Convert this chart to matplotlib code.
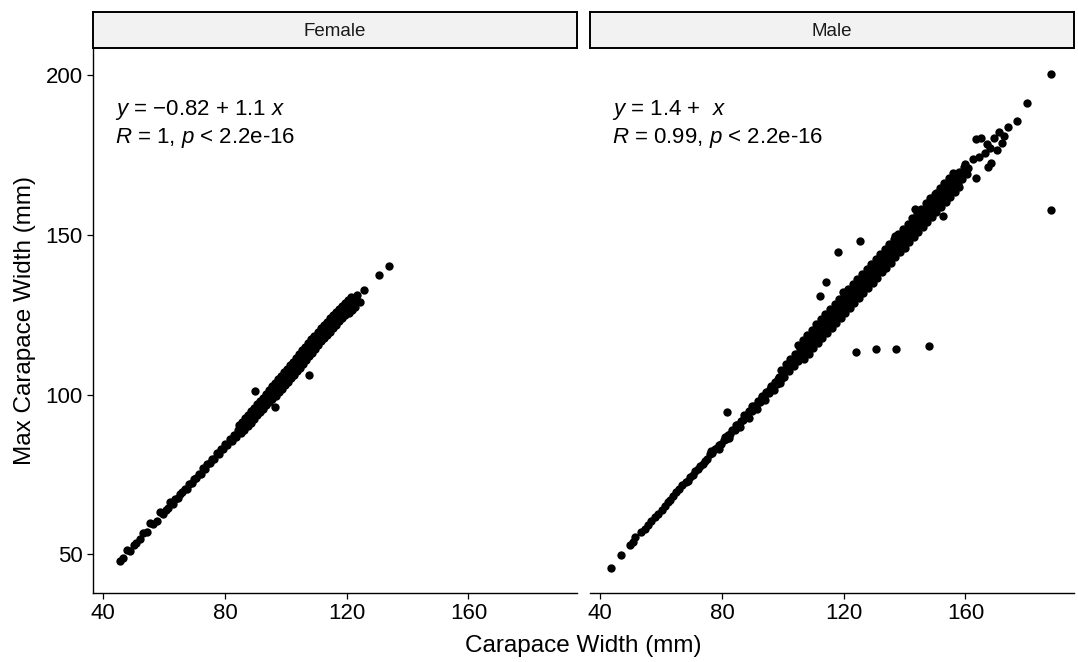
import matplotlib
matplotlib.use("Agg")
import matplotlib.pyplot as plt

plt.rcParams['font.family'] = ['Liberation Sans', 'DejaVu Sans']
plt.rcParams['mathtext.fontset'] = 'custom'
plt.rcParams['mathtext.rm'] = 'Liberation Sans'
plt.rcParams['mathtext.it'] = 'Liberation Sans:italic'

# ---------------- data ----------------
panels = ["Female", "Male"]
x_ticks = [40, 80, 120, 160]
y_ticks = [50, 100, 150, 200]
eq_text = ["$y$ = \u22120.82 + 1.1 $x$", "$y$ = 1.4 +  $x$"]
r_text = ["$R$ = 1, $p$ < 2.2e-16", "$R$ = 0.99, $p$ < 2.2e-16"]

female_low = [(45.6, 48.0), (46.3, 48.8), (47.8, 51.3), (48.6, 51.1), (50.0, 52.9), (50.8, 53.6),
              (52.0, 54.7), (53.2, 56.6), (54.2, 57.0), (55.5, 59.7), (56.4, 59.4), (57.5, 60.6),
              (58.7, 63.3), (59.6, 62.6), (60.5, 64.0), (61.3, 64.4), (62.0, 66.5), (62.9, 65.8),
              (63.6, 67.3), (64.4, 67.6), (65.2, 68.9), (66.0, 69.4), (66.8, 70.6), (67.5, 70.5),
              (68.3, 72.0), (69.0, 72.4), (69.8, 73.6), (70.6, 73.9), (71.3, 75.3), (72.0, 75.2),
              (72.8, 76.9), (73.5, 76.8), (74.2, 78.4), (75.0, 78.5), (75.8, 80.0), (76.5, 79.8),
              (77.2, 81.6), (78.0, 81.5), (78.7, 83.0), (79.4, 82.9), (80.1, 84.5), (80.8, 84.1),
              (81.5, 86.2), (82.2, 85.6), (82.9, 87.5), (83.6, 86.9), (84.3, 88.9)]

female_mid = [(85, 89.2), (86, 90.3), (87, 91.4), (88, 92.5), (89, 93.6), (90, 94.7), (91, 95.8),
              (92, 96.8), (93, 97.9), (94, 99.0), (95, 100.1), (96, 101.2), (97, 102.3), (98, 103.4),
              (99, 104.5), (100, 105.6), (101, 106.7), (102, 107.8), (103, 108.9), (104, 110.0),
              (105, 111.2), (106, 112.4), (107, 113.5), (108, 114.7), (109, 115.9), (110, 117.0),
              (111, 118.2), (112, 119.3), (113, 120.3), (114, 121.3), (115, 122.4), (116, 123.4),
              (117, 124.5), (118, 125.4), (119, 126.4), (120, 127.2), (121, 128.1), (122, 129.1),
              (123, 130.1)]

female_upper = [(84.6, 90.4), (85.6, 91.5), (86.6, 92.6), (87.6, 93.7), (88.6, 94.8), (89.6, 95.9),
                (90.6, 97.0), (91.6, 98.0), (92.6, 99.1), (93.6, 100.2), (94.4, 101.6), (95.4, 102.7),
                (96.4, 103.8), (97.4, 104.9), (98.4, 106.0), (99.4, 107.1), (100.4, 108.2),
                (101.4, 109.3), (102.4, 110.4), (103.4, 111.5), (104.4, 112.7), (105.4, 113.9),
                (106.4, 115.0), (107.4, 116.2), (108.4, 117.4), (109.4, 118.5), (110.4, 119.7),
                (111.4, 120.8), (112.4, 121.8), (113.4, 122.8), (114.4, 123.9), (115.4, 124.9),
                (116.4, 126.0), (117.4, 126.9), (118.4, 127.9), (119.4, 128.7), (120.4, 129.6),
                (121.4, 130.6)]

female_lower = [(85.4, 88.0), (86.4, 89.1), (87.4, 90.2), (88.4, 91.3), (89.4, 92.4), (90.4, 93.5),
                (91.4, 94.6), (92.4, 95.6), (93.4, 96.7), (94.4, 97.8), (95.6, 98.6), (96.6, 99.7),
                (97.6, 100.8), (98.6, 101.9), (99.6, 103.0), (100.6, 104.1), (101.6, 105.2),
                (102.6, 106.3), (103.6, 107.4), (104.6, 108.5), (105.6, 109.7), (106.6, 110.9),
                (107.6, 112.0), (108.6, 113.2), (109.6, 114.4), (110.6, 115.5), (111.6, 116.7),
                (112.6, 117.8), (113.6, 118.8), (114.6, 119.8), (115.6, 120.9), (116.6, 121.9),
                (117.6, 123.0), (118.6, 123.9), (119.6, 124.9), (120.6, 125.7), (121.6, 126.6),
                (122.6, 127.6)]

female_sparse = [(90.0, 101.3), (96.5, 96.1), (107.7, 106.3), (123.4, 131.2), (124.5, 129.0),
                 (125.6, 132.8), (130.5, 137.6), (134.0, 140.2)]

male_low = [(43.6, 45.8), (46.9, 49.8), (49.8, 53.0), (50.8, 54.0), (51.5, 55.3), (53.5, 57.0),
            (54.6, 58.0), (55.6, 59.2), (56.8, 60.4), (57.9, 61.6), (59.0, 62.5), (60.2, 64.0),
            (61.2, 65.3), (62.2, 66.5), (63.0, 67.0), (64.0, 68.4), (65.0, 69.4), (66.0, 70.6),
            (67.0, 71.6), (68.0, 72.6), (68.8, 73.0), (69.6, 74.3), (70.4, 74.8), (71.2, 76.0),
            (72.0, 76.6), (72.8, 77.6), (73.6, 78.2), (74.4, 79.4), (75.2, 80.0), (76.0, 81.3),
            (76.8, 81.6), (77.6, 82.9), (78.3, 83.2), (79.0, 84.3), (79.8, 84.6), (80.5, 85.8),
            (81.2, 86.0), (82.0, 87.4), (82.7, 87.6), (83.4, 88.9), (84.1, 89.0), (84.8, 90.4),
            (85.5, 90.5), (86.2, 91.9), (86.9, 92.0), (87.6, 93.4), (88.3, 93.5), (89.0, 94.8),
            (89.7, 94.8), (90.4, 96.4), (91.1, 96.4), (91.8, 97.9), (92.5, 97.8), (93.2, 99.4),
            (93.9, 99.3), (94.6, 100.9), (95.3, 100.6), (96.0, 102.6), (96.7, 102.2), (97.4, 104.0),
            (98.1, 103.5), (98.8, 105.6), (99.5, 105.0)]

male_low_extra = [(76.4, 82.4), (78.9, 83.1), (80.9, 86.9), (82.4, 86.3), (84.5, 90.6), (86.0, 90.0),
                  (87.2, 93.6), (88.8, 92.6), (90.0, 96.5), (91.5, 95.4), (93.0, 99.6), (94.2, 98.3),
                  (95.8, 101.7), (97.0, 101.5), (98.4, 105.0), (99.2, 103.8)]

male_mid = [(100.0, 106.7), (101.5, 108.4), (103.0, 110.0), (104.5, 111.7), (106.0, 113.3),
            (107.5, 115.0), (109.0, 116.6), (110.5, 118.2), (112.0, 119.8), (113.5, 121.4),
            (115.0, 123.0), (116.5, 124.6), (118.0, 126.2), (119.5, 127.8), (121.0, 129.4),
            (122.5, 130.9), (124.0, 132.5), (125.5, 134.1), (127.0, 135.7), (128.5, 137.2),
            (130.0, 138.8), (131.5, 140.4), (133.0, 142.0), (134.5, 143.5), (136.0, 145.1),
            (137.5, 146.7), (139.0, 148.3), (140.5, 149.8), (142.0, 151.4), (143.5, 153.0),
            (145.0, 154.6), (146.5, 156.1), (148.0, 157.7), (149.5, 159.3), (151.0, 160.9),
            (152.5, 162.4), (154.0, 164.0), (155.5, 165.6), (157.0, 167.2), (158.5, 168.7),
            (160.0, 170.3)]

male_upper = [(99.5, 107.8), (101.0, 109.5), (102.5, 111.1), (104.0, 112.8), (105.5, 114.4),
              (107.0, 116.1), (108.5, 117.7), (110.0, 119.3), (111.5, 120.9), (113.0, 122.5),
              (114.5, 124.1), (116.0, 125.7), (117.5, 127.3), (119.0, 128.9), (120.5, 130.5),
              (122.0, 132.0), (123.5, 133.6), (125.0, 135.2), (126.5, 136.8), (128.0, 138.3),
              (129.5, 139.9), (131.0, 141.5), (132.5, 143.1), (134.0, 144.6), (135.5, 146.2),
              (137.0, 147.8), (138.5, 149.4), (140.0, 150.9), (141.5, 152.5), (143.0, 154.1),
              (144.5, 155.7), (146.0, 157.2), (147.5, 158.8), (149.0, 160.4), (150.5, 162.0),
              (152.0, 163.5), (153.5, 165.1), (155.0, 166.7), (156.5, 168.3), (158.0, 169.8),
              (159.5, 171.4)]

male_lower = [(100.5, 105.6), (102.0, 107.3), (103.5, 108.9), (105.0, 110.6), (106.5, 112.2),
              (108.0, 113.9), (109.5, 115.5), (111.0, 117.1), (112.5, 118.7), (114.0, 120.3),
              (115.5, 121.9), (117.0, 123.5), (118.5, 125.1), (120.0, 126.7), (121.5, 128.3),
              (123.0, 129.8), (124.5, 131.4), (126.0, 133.0), (127.5, 134.6), (129.0, 136.1),
              (130.5, 137.7), (132.0, 139.3), (133.5, 140.9), (135.0, 142.4), (136.5, 144.0),
              (138.0, 145.6), (139.5, 147.2), (141.0, 148.7), (142.5, 150.3), (144.0, 151.9),
              (145.5, 153.5), (147.0, 155.0), (148.5, 156.6), (150.0, 158.2), (151.5, 159.8),
              (153.0, 161.3), (154.5, 162.9), (156.0, 164.5), (157.5, 166.1), (159.0, 167.6),
              (160.5, 169.2)]

male_outer_up = [(105, 115.5), (108, 118.8), (111, 122.0), (114, 125.2), (117, 128.3), (120, 131.5),
                 (123, 134.7), (126, 137.8), (129, 141.0), (132, 144.1), (135, 147.3), (138, 150.4),
                 (141, 153.6), (144, 156.7), (147, 159.9), (150, 163.0), (153, 166.2), (156, 169.3),
                 (106.5, 117.2), (109.5, 120.4), (112.5, 123.6), (115.5, 126.8), (118.5, 130.0),
                 (121.5, 133.1), (124.5, 136.3), (127.5, 139.4), (130.5, 142.6), (133.5, 145.7),
                 (136.5, 148.9), (139.5, 152.0), (142.5, 155.2), (145.5, 158.3), (148.5, 161.5),
                 (151.5, 164.6), (154.5, 167.8)]

male_outer_low = [(107, 111.2), (110, 114.5), (113, 117.7), (116, 120.9), (119, 124.0), (122, 127.2),
                  (125, 130.4), (128, 133.5), (131, 136.7), (134, 139.8), (137, 143.0), (140, 146.1),
                  (143, 149.3), (146, 152.4), (149, 155.6), (152, 158.7), (155, 161.9), (158, 165.0),
                  (108.5, 112.9), (111.5, 116.1), (114.5, 119.3), (117.5, 122.5), (120.5, 125.7),
                  (123.5, 128.8), (126.5, 132.0), (129.5, 135.1), (132.5, 138.3), (135.5, 141.4),
                  (138.5, 144.6), (141.5, 147.7), (144.5, 150.9), (147.5, 154.0), (150.5, 157.2),
                  (153.5, 160.3), (156.5, 163.5)]

male_top = [(119.8, 132.1), (136.7, 149.8), (143.3, 158.1), (150.5, 163.3), (152.6, 156.0),
            (156.5, 169.1), (159.8, 172.2), (161.0, 171.0), (162.5, 173.8), (163.6, 168.0),
            (164.5, 174.5), (166.3, 175.8), (167.4, 171.2), (168.5, 172.7), (168.0, 177.4),
            (167.0, 178.5), (163.6, 180.0), (165.2, 180.5), (169.5, 180.5), (170.5, 176.5),
            (172.0, 179.0), (172.8, 181.0), (170.9, 182.4), (174.0, 184.0), (176.8, 185.7),
            (180.2, 191.3), (188.1, 200.6)]

male_outliers = [(81.7, 94.6), (112.3, 130.8), (114.3, 135.4), (118.1, 144.8), (125.4, 148.1),
                 (123.9, 113.3), (130.5, 114.4), (137.3, 114.4), (147.9, 115.4), (188.1, 157.9)]

female_points = female_low + female_mid + female_upper + female_lower + female_sparse
male_points = (male_low + male_low_extra + male_mid + male_upper + male_lower + male_outer_up
               + male_outer_low + male_top + male_outliers)
panel_points = [female_points, male_points]

# ---------------- figure ----------------
W, H = 1078, 662
fig = plt.figure(figsize=(W / 100, H / 100), dpi=100)

panel_left_px = [93, 590]
panel_width_px = 484
panel_top_px, panel_bottom_px = 48, 593
strip_top_px = 12

for i, name in enumerate(panels):
    l = panel_left_px[i] / W
    w = panel_width_px / W
    b = 1 - panel_bottom_px / H
    h = (panel_bottom_px - panel_top_px) / H
    ax = fig.add_axes([l, b, w, h])
    pts = panel_points[i]
    ax.scatter([p[0] for p in pts], [p[1] for p in pts], s=36, c='black',
               linewidths=0, zorder=3)
    ax.set_xlim(36.6, 195.7)
    ax.set_ylim(37.9, 208.6)
    ax.set_xticks(x_ticks)
    ax.set_yticks(y_ticks)
    for side in ['top', 'right']:
        ax.spines[side].set_visible(False)
    ax.spines['bottom'].set_linewidth(1.0)
    ax.spines['left'].set_linewidth(1.0)
    ax.tick_params(axis='both', direction='out', length=4.5, width=0.9,
                   labelsize=16, colors='black', pad=3)
    if i == 1:
        ax.spines['left'].set_visible(False)
        ax.tick_params(axis='y', left=False, labelleft=False)

    ax.text(0.0455, 0.877, eq_text[i], transform=ax.transAxes, fontsize=16,
            ha='left', va='baseline')
    ax.text(0.0455, 0.8257, r_text[i], transform=ax.transAxes, fontsize=16,
            ha='left', va='baseline')

    # facet strip
    sb = 1 - panel_top_px / H
    sh = (panel_top_px - strip_top_px) / H
    sax = fig.add_axes([l, sb, w, sh])
    sax.set_facecolor('#F2F2F2')
    sax.set_xticks([])
    sax.set_yticks([])
    for sp in sax.spines.values():
        sp.set_linewidth(1.4)
        sp.set_color('black')
    sax.text(0.5, 0.45, name, transform=sax.transAxes, ha='center', va='center',
             fontsize=13.5, color='#1A1A1A')

fig.text(583.5 / W, 1 - 646 / H, "Carapace Width (mm)", ha='center', va='center',
         fontsize=17.5)
fig.text(25 / W, 1 - 320.5 / H, "Max Carapace Width (mm)", ha='center', va='center',
         rotation=90, fontsize=17.5)

fig.savefig("out.png", dpi=100)
